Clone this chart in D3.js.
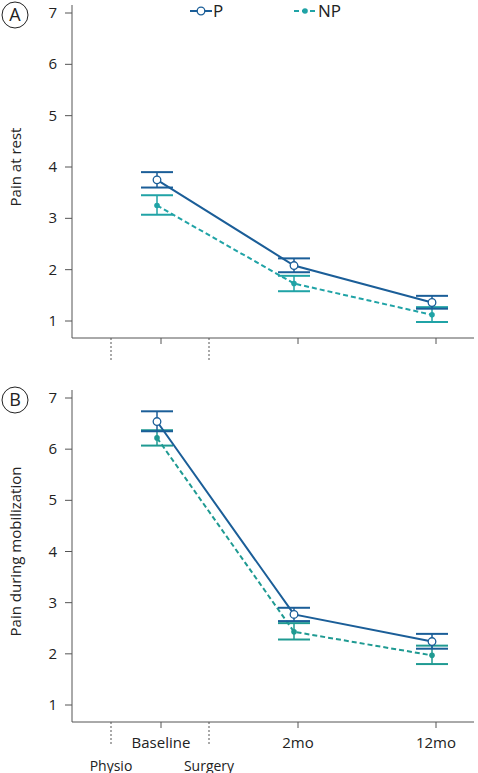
<!DOCTYPE html><html><head><meta charset="utf-8"><script src="https://cdn.jsdelivr.net/npm/d3@7"></script>
<style>body{margin:0;background:#fff}text{font-family:"Open Sans",sans-serif}</style></head><body><svg width="478" height="773"></svg>
<script>
const categories=["Baseline","2mo","12mo"];
const restP=[3.75,2.08,1.36], restPlo=[3.6,1.95,1.24], restPhi=[3.9,2.22,1.49];
const restNP=[3.25,1.73,1.12], restNPlo=[3.07,1.58,0.98], restNPhi=[3.45,1.88,1.27];
const mobP=[6.54,2.77,2.24], mobPlo=[6.35,2.64,2.1], mobPhi=[6.74,2.9,2.39];
const mobNP=[6.22,2.43,1.97], mobNPlo=[6.07,2.28,1.8], mobNPhi=[6.37,2.6,2.16];
const yTicks=[1,2,3,4,5,6,7];
const cP="#1b5e98", cNP="#20a3a6";
const svg=d3.select("svg");
const xpos=d3.scaleOrdinal().domain(["Physio","Baseline","Surgery","2mo","12mo"]).range([111,161,209,298,436]);
function panel(top,y0,y7,axisY,label,letter,P,Plo,Phi,NP,NPlo,NPhi,showLabels,ncol){
  const y=d3.scaleLinear().domain([1,7]).range([y0,y7]);
  const g=svg.append("g");
  g.append("line").attr("x1",72).attr("x2",72).attr("y1",top-8).attr("y2",axisY).attr("stroke","#555");
  g.append("line").attr("x1",72).attr("x2",474).attr("y1",axisY).attr("y2",axisY).attr("stroke","#555");
  yTicks.forEach(t=>{g.append("line").attr("x1",65).attr("x2",72).attr("y1",y(t)).attr("y2",y(t)).attr("stroke","#555");
    g.append("text").attr("x",57).attr("y",y(t)+5).attr("text-anchor","end").attr("font-size",15).attr("fill","#222").text(t);});
  categories.forEach(c=>g.append("line").attr("x1",xpos(c)).attr("x2",xpos(c)).attr("y1",axisY).attr("y2",axisY+6).attr("stroke","#555"));
  ["Physio","Surgery"].forEach(c=>g.append("line").attr("x1",xpos(c)).attr("x2",xpos(c)).attr("y1",axisY).attr("y2",axisY+24).attr("stroke","#555").attr("stroke-dasharray","2,2"));
  g.append("text").attr("transform",`translate(21,${(y0+y7)/2}) rotate(-90)`).attr("text-anchor","middle").attr("font-size",15).attr("fill","#222").text(label);
  g.append("circle").attr("cx",15).attr("cy",top+2).attr("r",13).attr("fill","none").attr("stroke","#222");
  g.append("text").attr("x",15).attr("y",top+8).attr("text-anchor","middle").attr("font-size",18).attr("fill","#222").text(letter);
  if(showLabels){
    categories.forEach(c=>g.append("text").attr("x",xpos(c)).attr("y",axisY+26).attr("text-anchor","middle").attr("font-size",15).attr("fill","#222").text(c));
    ["Physio","Surgery"].forEach(c=>g.append("text").attr("x",xpos(c)).attr("y",axisY+49).attr("text-anchor","middle").attr("font-size",14).attr("fill","#222").text(c));
  }
  const series=[[NP,NPlo,NPhi,ncol,true],[P,Plo,Phi,cP,false]];
  series.forEach(([v,lo,hi,col,dash])=>{
    const pts=categories.map((c,i)=>[xpos(c)-4,y(v[i]),y(lo[i]),y(hi[i])]);
    pts.forEach(p=>{g.append("line").attr("x1",p[0]).attr("x2",p[0]).attr("y1",p[2]).attr("y2",p[3]).attr("stroke",col).attr("stroke-width",1.5);
      [p[2],p[3]].forEach(yy=>g.append("line").attr("x1",p[0]-16).attr("x2",p[0]+16).attr("y1",yy).attr("y2",yy).attr("stroke",col).attr("stroke-width",2));});
    g.append("path").attr("d",d3.line()(pts.map(p=>[p[0],p[1]]))).attr("fill","none").attr("stroke",col).attr("stroke-width",2).attr("stroke-dasharray",dash?"5,3":null);
    pts.forEach(p=>{ if(dash) g.append("circle").attr("cx",p[0]).attr("cy",p[1]).attr("r",2.8).attr("fill",col);
      else g.append("circle").attr("cx",p[0]).attr("cy",p[1]).attr("r",3.8).attr("fill","#fff").attr("stroke",col).attr("stroke-width",1.3);});
  });
}
panel(13,321,13,338,"Pain at rest","A",restP,restPlo,restPhi,restNP,restNPlo,restNPhi,false,cNP);
panel(398,705,398,722,"Pain during mobilization","B",mobP,mobPlo,mobPhi,mobNP,mobNPlo,mobNPhi,true,"#1f9a92");
const lg=svg.append("g");
lg.append("line").attr("x1",190).attr("x2",212).attr("y1",11).attr("y2",11).attr("stroke",cP).attr("stroke-width",2);
lg.append("circle").attr("cx",201).attr("cy",11).attr("r",3.8).attr("fill","#fff").attr("stroke",cP).attr("stroke-width",1.3);
lg.append("text").attr("x",213).attr("y",17).attr("font-size",17).attr("fill","#222").text("P");
lg.append("line").attr("x1",294).attr("x2",317).attr("y1",11).attr("y2",11).attr("stroke",cNP).attr("stroke-width",2).attr("stroke-dasharray","5,3");
lg.append("circle").attr("cx",305).attr("cy",11).attr("r",2.8).attr("fill",cNP);
lg.append("text").attr("x",318).attr("y",17).attr("font-size",17).attr("fill","#222").text("NP");
</script></body></html>
